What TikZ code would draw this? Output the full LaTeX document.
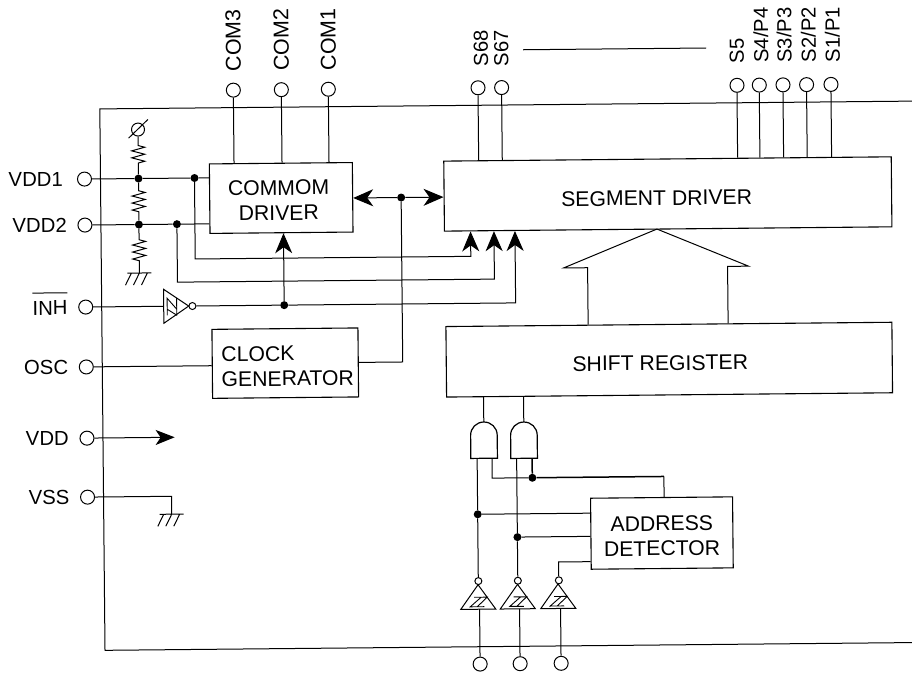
\documentclass[tikz,border=0pt]{standalone}
\usepackage{fontspec}
\setmainfont{Liberation Sans}
\usetikzlibrary{arrows.meta,decorations.pathmorphing}
\tikzset{
  wire/.style={line width=1pt,line join=miter},
  pinc/.style={circle,draw,line width=1pt,minimum size=14pt,inner sep=0pt,fill=white},
  bub/.style={circle,draw,line width=1pt,minimum size=7pt,inner sep=0pt,fill=white},
  dotc/.style={circle,fill=black,minimum size=8pt,inner sep=0pt},
  blockbox/.style={draw,line width=1.1pt,inner sep=0pt,fill=white},
  txt/.style={font=\fontsize{21.2}{25}\selectfont,inner sep=0pt,align=center},
  leftlbl/.style={font=\fontsize{20.3}{25}\selectfont,inner sep=0pt,anchor=base east},
  toplbl/.style={font=\fontsize{20.3}{25}\selectfont,inner sep=0pt,anchor=base west,rotate=90},
  comlbl/.style={font=\fontsize{21.5}{25}\selectfont,inner sep=0pt,anchor=base west,rotate=90},
  bigarrow/.style={-{Stealth[length=20pt,width=17pt,inset=6pt]},line width=1pt},
  zig/.style={decorate,decoration={zigzag,segment length=7pt,amplitude=6.5pt,pre length=#1,post length=#1},line width=1pt},
  gnd/.pic={\draw[line width=1pt] (-12,0)--(12,0) (-8,0)--(-14,12) (0,0)--(-6,12) (8,0)--(2,12);},
  andg/.pic={\draw[line width=1.2pt,fill=white] (-13.3,18)--(-13.3,-5) .. controls (-13.3,-12.5) and (-7.4,-18.3) .. (0,-18.3) .. controls (7.4,-18.3) and (13.3,-12.5) .. (13.3,-5) -- (13.3,18) -- cycle;},
  bufz/.pic={\draw[line width=1pt,fill=white] (0,0)--(17.5,24.5)--(-17.5,24.5)--cycle;
     \draw[line width=.9pt] (-4,12.5)--(3,12.5)--(-8,22)--(0,22) (3,12.5)--(9,12.5)--(-1,22)--(6,22);},
  invz/.pic={\draw[line width=1pt,fill=white] (0,0)--(-25,-17)--(-25,17)--cycle;
     \draw[line width=.9pt] (-21.5,9)--(-21.5,-8)--(-12,3)--(-12,-8) (-21.5,3)--(-12,9)--(-12,3);}
}
\begin{document}
\begin{tikzpicture}[x=1pt,y=-1pt]
\useasboundingbox (0,0) rectangle (912,673);
\begin{scope}[rotate around={0.55:(456,336)},transform shape]
% frame
\coordinate (ftr) at (916,105.5); \coordinate (ftl) at (102,105.5);
\coordinate (fbl) at (102,647); \coordinate (fbr) at (916,647);
\draw[wire] (ftr)--(ftl)--(fbl)--(fbr);
% blocks
\node[blockbox,minimum width=143pt,minimum height=69.5pt] (cdrv) at (282.5,196.3) {};
\node[blockbox,minimum width=447.5pt,minimum height=70pt] (sdrv) at (669.2,196) {};
\node[blockbox,minimum width=446pt,minimum height=70.5pt] (sreg) at (669,361.7) {};
\node[blockbox,minimum width=146pt,minimum height=69pt] (clk) at (285,361.5) {};
\node[blockbox,minimum width=142pt,minimum height=71pt] (addr) at (660,535) {};
\node[txt] (tcd) at (280,198.5) {COMMOM\\DRIVER};
\node[txt] (tsd) at (658,200) {SEGMENT DRIVER};
\node[txt] (tsr) at (660,365) {SHIFT REGISTER};
\node[txt,align=left,anchor=west] (tck) at (221,364.5) {CLOCK\\GENERATOR};
\node[txt] (tad) at (660,538) {ADDRESS\\DETECTOR};
% top pins
\foreach \n/\x in {com3/235.7,com2/283.7,com1/330.7,s68/480.4,s67/504,s5/739.4,s4/761.7,s3/785.4,s2/809,s1/833.4}
  \node[pinc] (\n) at (\x,88) {};
\foreach \n in {com3,com2,com1} \draw[wire] (\n) -- (\n |- cdrv.north);
\foreach \n in {s68,s67,s5,s4,s3,s2,s1} \draw[wire] (\n) -- (\n |- sdrv.north);
\node[comlbl] (lc3) at (243.5,69.5) {COM3};
\node[comlbl] (lc2) at (291.5,69.5) {COM2};
\node[comlbl] (lc1) at (338.5,69.5) {COM1};
\node[toplbl] (ls68) at (490.6,67) {S68};
\node[toplbl] (ls67) at (511,67) {S67};
\node[toplbl] (ls5) at (746.6,66) {S5};
\node[toplbl] (ls4) at (771,66) {S4/P4};
\node[toplbl] (ls3) at (794.3,66) {S3/P3};
\node[toplbl] (ls2) at (818.6,66) {S2/P2};
\node[toplbl] (ls1) at (842.6,66) {S1/P1};
\coordinate (dl) at (526,50.4); \coordinate (dr) at (709,50.4);
\draw[wire] (dl)--(dr);
% left pins
\node[pinc] (vdd1) at (86,175.5) {};
\node[pinc] (vdd2) at (86,221.5) {};
\node[pinc] (inh) at (86,303.5) {};
\node[pinc] (osc) at (86,363.4) {};
\node[pinc] (vdd) at (86,434.6) {};
\node[pinc] (vss) at (86,493.6) {};
\node[leftlbl] (lv1) at (64.5,182.5) {VDD1};
\node[leftlbl] (lv2) at (68,228.5) {VDD2};
\node[leftlbl] (lin) at (68,311) {\vbox{\hrule height 1pt\kern 7.5pt\hbox{INH}}};
\node[leftlbl] (los) at (68,370.5) {OSC};
\node[leftlbl] (lvd) at (68,441.5) {VDD};
\node[leftlbl] (lvs) at (68,500.5) {VSS};
% divider
\node[pinc,minimum size=13pt,fill=none] (vx) at (140,126.5) {};
\coordinate (sl1) at (130.5,135); \coordinate (sl2) at (150,116.5);
\draw[wire] (sl1)--(sl2);
\node[dotc] (d1) at (140,175.5) {};
\node[dotc] (d2) at (140,221.5) {};
\coordinate (g1) at (140,270);
\draw[zig=9pt] (vx)--(d1);
\draw[zig=8pt] (d1)--(d2);
\draw[zig=11pt] (d2)--(g1);
\pic at (g1) {gnd};
\node[dotc] (d3) at (196,175.5) {};
\node[dotc] (d4) at (178,221.5) {};
\draw[wire] (vdd1)--(d1)--(d3)--(d3 -| cdrv.west);
\draw[wire] (vdd2)--(d2)--(d4)--(d4 -| cdrv.west);
\coordinate (a1) at (471.6,256.5);
\coordinate (a2) at (495,279.5);
\coordinate (a3) at (516,303.5);
\draw[bigarrow] (d3) |- (a1) -- (a1 |- sdrv.south);
\draw[bigarrow] (d4) |- (a2) -- (a2 |- sdrv.south);
% inverter
\coordinate (inva) at (189,303.5);
\coordinate (invi) at (164,303.5);
\node[bub] (ib) at (192.7,303.5) {};
\draw[wire] (inh)--(invi);
\pic at (inva) {invz};
\node[dotc] (d5) at (284.5,303.5) {};
\draw[wire] (ib)--(d5);
\draw[bigarrow] (d5)--(d5 |- cdrv.south);
\draw[bigarrow] (d5) -- (a3) -- (a3 |- sdrv.south);
% clock
\draw[wire] (osc)--(osc -| clk.west);
\node[dotc] (d6) at (402.5,197) {};
\draw[wire] (clk.east) -| (d6);
\draw[bigarrow] (d6)--(d6 -| cdrv.east);
\draw[bigarrow] (d6)--(d6 -| sdrv.west);
% VDD, VSS
\coordinate (vt) at (173.7,434.6);
\draw[-{Stealth[length=19pt,width=15pt,inset=5pt]},line width=1pt] (vdd)--(vt);
\coordinate (vc) at (170,493.6);
\coordinate (g2) at (170,511.5);
\draw[wire] (vss)--(vc)--(g2);
\pic at (g2) {gnd};
% house arrow
\coordinate (apx) at (658,231);
\coordinate (hl) at (564.3,269); \coordinate (hr) at (749.3,269);
\coordinate (sl) at (588.3,269); \coordinate (sr) at (728.3,269);
\draw[wire] (sl |- sreg.north)--(sl)--(hl)--(apx)--(hr)--(sr)--(sr |- sreg.north);
% gates
\coordinate (ga) at (483,440.6); \coordinate (gb) at (523,441);
\pic at (ga) {andg}; \pic at (gb) {andg};
\coordinate (gat) at (483,422.3); \coordinate (gbt) at (523,422.7);
\draw[wire] (gat)--(gat |- sreg.south);
\draw[wire] (gbt)--(gbt |- sreg.south);
\coordinate (ga1) at (476,458.6); \coordinate (ga2) at (490.9,458.6);
\coordinate (gb1) at (515.5,459); \coordinate (gb2) at (531,459);
\node[dotc] (d7) at (476,514.5) {};
\node[dotc] (d8) at (515.5,537.7) {};
\node[dotc] (d9) at (531,478.5) {};
\node[bub] (b1) at (476,581.3) {};
\node[bub] (b2) at (515.5,581.3) {};
\node[bub] (b3) at (556.5,581.3) {};
\draw[wire] (ga1)--(d7)--(b1);
\draw[wire] (gb1)--(d8)--(b2);
\draw[wire] (d7)--(d7 -| addr.west);
\draw[wire] (d8)--(d8 -| addr.west);
\coordinate (a3w) at (556.5,563);
\draw[wire] (b3)--(a3w)--(a3w -| addr.west);
\coordinate (tap) at (662.6,478.5);
\draw[wire] (ga2) |- (d9);
\draw[line width=1.5pt] (gb2)--(d9)--(tap);
\draw[wire] (tap)--(tap |- addr.north);
% buffers
\coordinate (t1) at (475.7,585); \coordinate (t2) at (515.2,585); \coordinate (t3) at (555.7,585);
\pic at (t1) {bufz}; \pic at (t2) {bufz}; \pic at (t3) {bufz};
\coordinate (tb) at (476,609.5);
\node[pinc] (p1) at (477,664.3) {};
\node[pinc] (p2) at (517,664.3) {};
\node[pinc] (p3) at (558,664.3) {};
\draw[wire] (p1)--(p1 |- tb);
\draw[wire] (p2)--(p2 |- tb);
\draw[wire] (p3)--(p3 |- tb);
\end{scope}
\end{tikzpicture}
\end{document}
